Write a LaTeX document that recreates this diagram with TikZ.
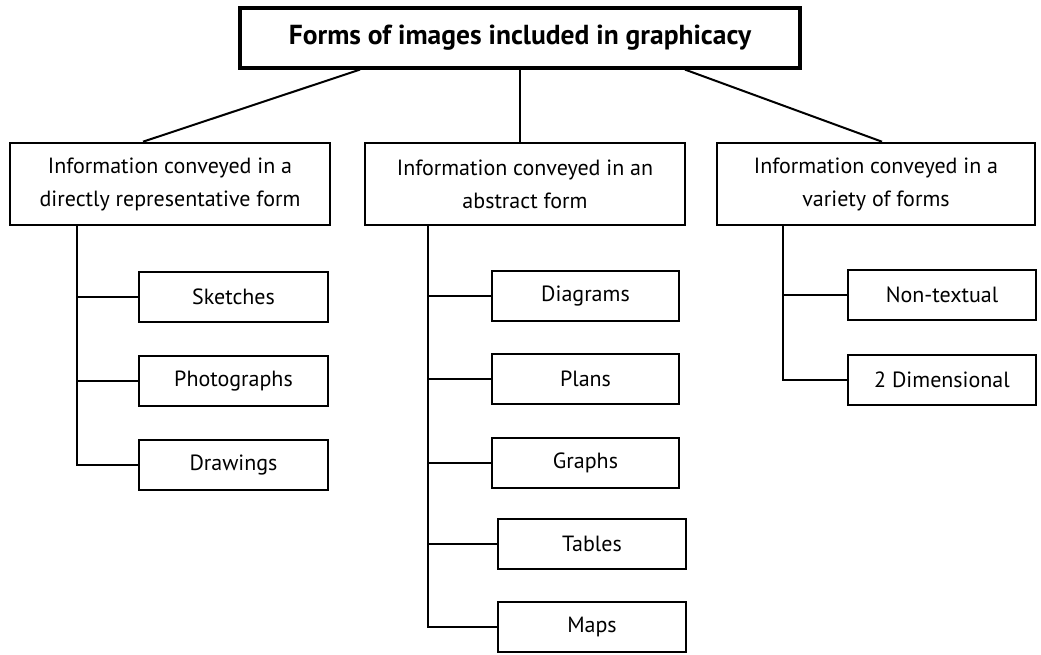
\documentclass[tikz,border=0pt]{standalone}
\usepackage{fontspec}
\setmainfont{PT Sans}
\begin{document}
\begin{tikzpicture}[x=1pt,y=-1pt,
  box/.style={draw=black,line width=2.6pt,fill=white,inner sep=0pt,align=center,
    font=\fontsize{22}{33}\selectfont},
  topbox/.style={box,line width=3.2pt,font=\fontsize{27.5}{30}\selectfont\bfseries},
  leaf/.style={box,minimum height=50pt},
  conn/.style={draw=black,line width=2pt}]
\useasboundingbox (0,0) rectangle (1041,654);
\node[topbox,minimum width=560pt,minimum height=60pt] (top) at (520,38) {Forms of images included in graphicacy};
\node[box,minimum width=320pt,minimum height=82pt] (b1) at (170,184) {Information conveyed in a\\directly representative form};
\node[box,minimum width=320pt,minimum height=82pt] (b2) at (525,184) {Information conveyed in an\\abstract form};
\node[box,minimum width=318pt,minimum height=82pt] (b3) at (876,184) {Information conveyed in a\\variety of forms};
\node[leaf,minimum width=189pt] (sk) at (233.5,297) {Sketches};
\node[leaf,minimum width=189pt] (ph) at (233.5,381) {Photographs};
\node[leaf,minimum width=189pt] (dr) at (233.5,465) {Drawings};
\node[leaf,minimum width=187pt] (di) at (585.5,296) {Diagrams};
\node[leaf,minimum width=187pt] (pl) at (585.5,379) {Plans};
\node[leaf,minimum width=187pt] (gr) at (585.5,463) {Graphs};
\node[leaf,minimum width=188pt] (ta) at (592,544) {Tables};
\node[leaf,minimum width=188pt] (ma) at (592,627) {Maps};
\node[leaf,minimum width=188pt] (nt) at (942,295) {Non-textual};
\node[leaf,minimum width=188pt] (td) at (942,380) {2 Dimensional};
\draw[conn] ([xshift=-160pt]top.south) -- ([xshift=-27pt]b1.north);
\draw[conn] (top.south) -- ([xshift=-5pt]b2.north);
\draw[conn] ([xshift=165pt]top.south) -- ([xshift=6pt]b3.north);
\draw[conn] ([xshift=-93pt]b1.south) |- (sk.west);
\draw[conn] ([xshift=-93pt]b1.south) |- (ph.west);
\draw[conn] ([xshift=-93pt]b1.south) |- (dr.west);
\draw[conn] ([xshift=-97pt]b2.south) |- (di.west);
\draw[conn] ([xshift=-97pt]b2.south) |- (pl.west);
\draw[conn] ([xshift=-97pt]b2.south) |- (gr.west);
\draw[conn] ([xshift=-97pt]b2.south) |- (ta.west);
\draw[conn] ([xshift=-97pt]b2.south) |- (ma.west);
\draw[conn] ([xshift=-93pt]b3.south) |- (nt.west);
\draw[conn] ([xshift=-93pt]b3.south) |- (td.west);
\end{tikzpicture}
\end{document}
